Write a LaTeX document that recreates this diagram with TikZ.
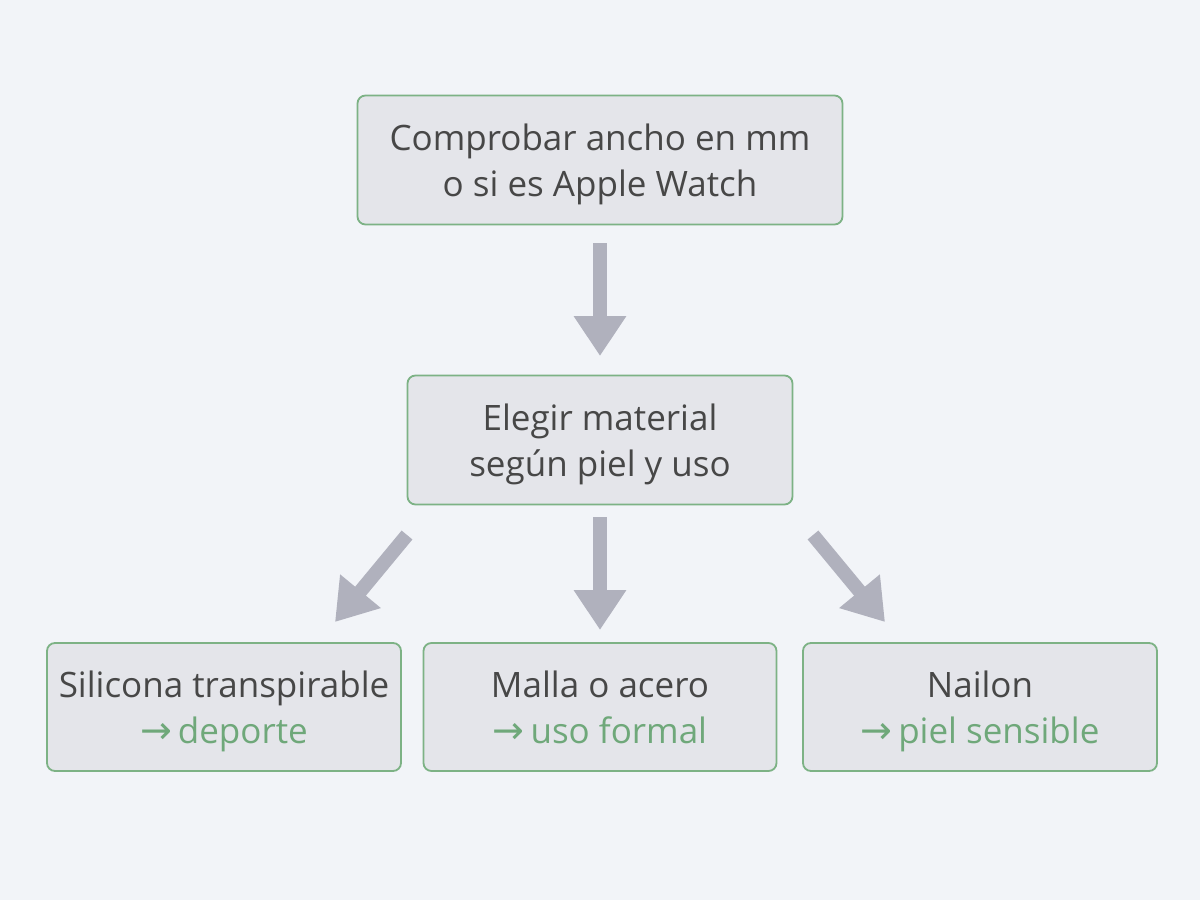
\documentclass[tikz,border=0pt]{standalone}
\usepackage{fontspec}
\setmainfont{Open Sans}
\newfontfamily\arrowfont{DejaVu Sans}
\usetikzlibrary{arrows.meta,positioning}
\definecolor{pagebg}{HTML}{F2F4F8}
\definecolor{boxfill}{HTML}{E4E5EA}
\definecolor{boxline}{HTML}{7DB285}
\definecolor{textgray}{HTML}{474747}
\definecolor{notegreen}{HTML}{6FA87A}
\definecolor{arrowgray}{HTML}{B0B1BD}
\tikzset{
      stepbox/.style={
        rounded corners=4pt,
        draw=boxline,
        line width=0.9pt,
        fill=boxfill,
        text=textgray,
        align=center,
        font=\fontsize{17.5}{23}\selectfont,
        inner sep=0pt
      },
      bigarrow/.style={
        draw=arrowgray,
        line width=7pt,
        -{Triangle[width=25pt,length=20pt]}
      }
    }
\newcommand{\topstrut}{\rule{0pt}{20pt}}
\newcommand{\note}[1]{{\color{notegreen}{\arrowfont\fontsize{19}{23}\selectfont →}\,#1}}

\begin{document}
\begin{tikzpicture}[x=0.5pt,y=-0.5pt]
    \fill[pagebg] (0,0) rectangle (1200,900);
    \useasboundingbox (0,0) rectangle (1200,900);
    \node[stepbox, minimum width=242.5pt, minimum height=64.5pt] (check) at (600,160) {\topstrut Comprobar ancho en mm\\\strut o si es Apple Watch};
    \node[stepbox, minimum width=192.5pt, minimum height=64.5pt] (material) at (600,440) {\topstrut Elegir material\\\strut según piel y uso};
    \node[stepbox, minimum width=177pt, minimum height=64pt] (silicona) at (224,707) {\topstrut Silicona transpirable\\\strut\note{deporte}};
    \node[stepbox, minimum width=176.5pt, minimum height=64pt] (malla) at (600,707) {\topstrut Malla o acero\\\strut\note{uso formal}};
    \node[stepbox, minimum width=177pt, minimum height=64pt] (nailon) at (980,707) {\topstrut Nailon\\\strut\note{piel sensible}};
    \coordinate (a1) at (600,243);
    \coordinate (a2) at (600,517);
    \coordinate (l1) at (407,535);
    \coordinate (r1) at (813,535);
    \coordinate (l2) at (335,622);
    \coordinate (m2) at (600,630);
    \coordinate (r2) at (885,622);
    \draw[bigarrow] (a1) -- (600,356);
    \draw[bigarrow] (a2) -- (m2);
    \draw[bigarrow] (l1) -- (l2);
    \draw[bigarrow] (r1) -- (r2);
    \end{tikzpicture}
\end{document}
